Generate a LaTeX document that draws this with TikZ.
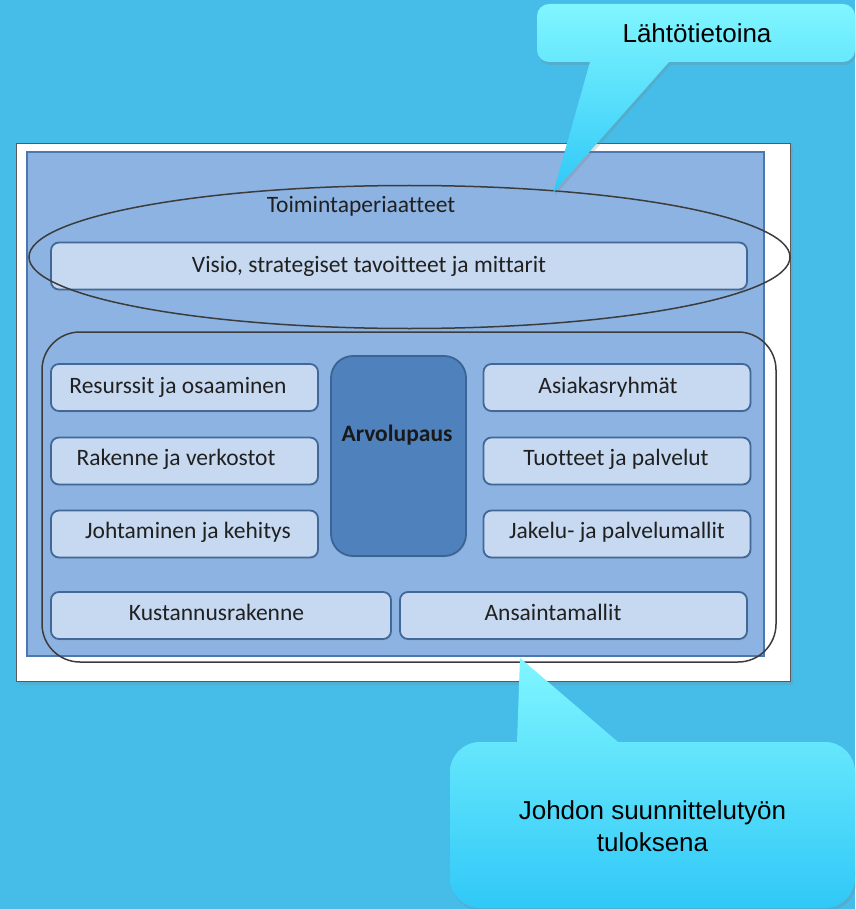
\documentclass[tikz,border=0pt]{standalone}
\usepackage{fontspec}
\setmainfont{Carlito}[Ligatures=NoCommon]
\newfontfamily\arialfont{Liberation Sans}
\usetikzlibrary{shadows}
\definecolor{bgc}{RGB}{69,189,232}
\definecolor{innerfill}{RGB}{141,179,226}
\definecolor{innerline}{RGB}{77,119,173}
\definecolor{boxfill}{RGB}{198,217,241}
\definecolor{boxline}{RGB}{66,104,154}
\definecolor{arvofill}{RGB}{79,129,189}
\definecolor{arvoline}{RGB}{58,100,148}
\definecolor{txt}{RGB}{32,32,32}
\definecolor{ringline}{RGB}{60,60,60}
\definecolor{calltop}{RGB}{128,246,255}
\definecolor{callbot}{RGB}{48,200,247}
\begin{document}
\begin{tikzpicture}[x=1pt,y=-1pt,
  boxnode/.style={draw=boxline, line width=1.8pt, fill=boxfill, rounded corners=8pt,
    inner sep=0pt, minimum height=47pt,
    drop shadow={opacity=0.15, shadow xshift=1pt, shadow yshift=-1.5pt}},
  leftbox/.style={boxnode, minimum width=267pt},
  arvobox/.style={draw=arvoline, line width=1.8pt, fill=arvofill, rounded corners=22pt,
    inner sep=0pt, minimum width=135pt, minimum height=200pt,
    drop shadow={opacity=0.15, shadow xshift=1pt, shadow yshift=-1.5pt}},
  lbl/.style={font=\fontsize{23.5}{28}\selectfont, text=txt, anchor=base, inner sep=0pt},
  calltxt/.style={font=\arialfont\fontsize{26}{31}\selectfont, text=black, anchor=base, inner sep=0pt},
  ring/.style={draw=ringline, line width=1.5pt},
  callout/.style={top color=calltop, bottom color=callbot,
    drop shadow={opacity=0.25, shadow xshift=1.5pt, shadow yshift=-3pt}}
]
\useasboundingbox (0,0) rectangle (855,909);
\fill[bgc] (0,0) rectangle (855,909);

% white frame and inner panel
\draw[draw={rgb,255:red,90;green,90;blue,90}, line width=1.2pt, fill=white,
  drop shadow={opacity=0.2, shadow xshift=2pt, shadow yshift=-3pt}]
  (16.5,143.5) rectangle (790.5,681.5);
\draw[draw=innerline, line width=1.5pt, fill=innerfill] (27,152) rectangle (764,656);

% boxes
\node[boxnode, minimum width=696pt] (visio) at (399,266) {};
\node[leftbox] (res) at (184.5,387.5) {};
\node[leftbox] (rak) at (184.5,461) {};
\node[leftbox] (joh) at (184.5,534) {};
\node[leftbox] (asi) at (617,387.5) {};
\node[leftbox] (tuo) at (617,461) {};
\node[leftbox] (jak) at (617,534) {};
\node[arvobox] (arvo) at (398.5,456) {};
\node[boxnode, minimum width=340pt] (kus) at (221,615.5) {};
\node[boxnode, minimum width=347pt] (ans) at (573.5,615.5) {};

% texts
\node[lbl] (t-toim) at (361,213) {Toimintaperiaatteet};
\node[lbl] (t-visio) at (369,272) {Visio, strategiset tavoitteet ja mittarit};
\node[lbl] (t-res) at (178,393) {Resurssit ja osaaminen};
\node[lbl] (t-rak) at (176,465) {Rakenne ja verkostot};
\node[lbl] (t-joh) at (188,538) {Johtaminen ja kehitys};
\node[lbl] (t-asi) at (608,393) {Asiakasryhmät};
\node[lbl] (t-tuo) at (616,465) {Tuotteet ja palvelut};
\node[lbl] (t-jak) at (617,538) {Jakelu- ja palvelumallit};
\node[lbl] (t-kus) at (216.5,620) {Kustannusrakenne};
\node[lbl] (t-ans) at (553,620) {Ansaintamallit};
\node[lbl, font=\bfseries\fontsize{23.5}{28}\selectfont, text=black!90] (t-arvo) at (397,441) {Arvolupaus};

% ellipse and rounded enclosure
\draw[ring] (409.5,257) ellipse [x radius=380.5, y radius=71.5];
\draw[ring, rounded corners=38pt] (42,332) rectangle (776,662);

% callout: Lähtötietoina
\shade[callout]
  (537,16) arc[start angle=180, end angle=270, radius=12]
  -- (843,4) arc[start angle=270, end angle=360, radius=12]
  -- (855,50) arc[start angle=0, end angle=90, radius=12]
  -- (669,62) -- (553,193) -- (590,62)
  -- (549,62) arc[start angle=90, end angle=180, radius=12] -- cycle;
\node[calltxt] (t-lahto) at (697,43) {Lähtötietoina};

% callout: Johdon suunnittelutyön tuloksena
\shade[callout]
  (450,772) arc[start angle=180, end angle=270, radius=30]
  -- (517,742) -- (520,658) -- (618,742)
  -- (825,742) arc[start angle=270, end angle=360, radius=30]
  -- (855,878) arc[start angle=0, end angle=90, radius=30]
  -- (480,908) arc[start angle=90, end angle=180, radius=30] -- cycle;
\node[calltxt] (t-joh1) at (652.5,819) {Johdon suunnittelutyön};
\node[calltxt] (t-joh2) at (652.5,851) {tuloksena};
\end{tikzpicture}
\end{document}
